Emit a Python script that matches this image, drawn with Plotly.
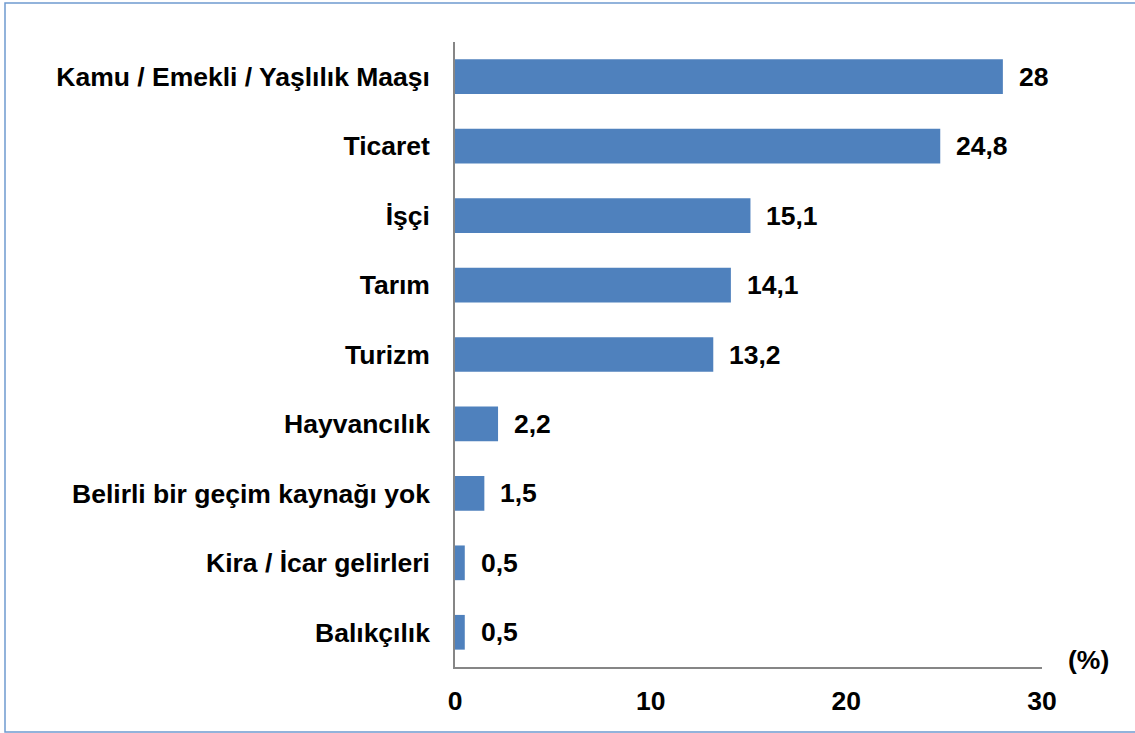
import plotly.graph_objects as go

# geçim kaynakları (%)
categories = [
    'Kamu / Emekli / Yaşlılık Maaşı',
    'Ticaret',
    'İşçi',
    'Tarım',
    'Turizm',
    'Hayvancılık',
    'Belirli bir geçim kaynağı yok',
    'Kira / İcar gelirleri',
    'Balıkçılık',
]
values = [28, 24.8, 15.1, 14.1, 13.2, 2.2, 1.5, 0.5, 0.5]
x_ticks = [0, 10, 20, 30]

W, H = 1135, 733
L, R, T, B = 455, 93, 42, 66
pw, ph = W - L - R, H - T - B

font = dict(family='Liberation Sans, Arial, sans-serif', size=26.5, color='black')

fig = go.Figure()
fig.add_trace(go.Bar(
    y=categories, x=values, orientation='h',
    marker=dict(color='#4F81BD', line=dict(width=0)),
    hoverinfo='skip',
))

# değer etiketleri
for c, v in zip(categories, values):
    fig.add_annotation(
        x=v, y=c, text='<b>' + f'{v:g}'.replace('.', ',') + '</b>',
        showarrow=False, xanchor='left', xshift=14, font=font,
    )

fig.add_annotation(
    xref='paper', yref='paper', x=(1088 - L) / pw, y=(H - B - 660) / ph,
    xanchor='center', yanchor='middle',
    text='<b>(%)</b>', showarrow=False, font=font,
)

# çerçeve
fig.add_shape(
    type='rect', xref='paper', yref='paper',
    x0=(5 - L) / pw, x1=(W + 5 - L) / pw,
    y0=(H - B - 732) / ph, y1=(H - B - 3) / ph,
    line=dict(color='#6F9AD0', width=1.5), layer='below',
)

fig.update_layout(
    width=W, height=H,
    margin=dict(l=L, r=R, t=T, b=B),
    plot_bgcolor='white', paper_bgcolor='white',
    font=font, bargap=0.5, showlegend=False,
)
fig.update_xaxes(
    range=[0, 30], tickvals=x_ticks, ticktext=[f'<b>{t}</b>' for t in x_ticks],
    showgrid=False, zeroline=False, showline=True, linecolor='#868686', linewidth=1.5,
    ticks='outside', ticklen=9, tickcolor='rgba(0,0,0,0)', fixedrange=True,
)
fig.update_yaxes(
    categoryorder='array', categoryarray=categories[::-1],
    tickvals=categories, ticktext=[f'<b>{c}</b>' for c in categories],
    showgrid=False, zeroline=False, showline=True, linecolor='#868686', linewidth=1.5,
    ticks='outside', ticklen=18, tickcolor='rgba(0,0,0,0)', fixedrange=True,
)

fig.write_html('out.html', config={'displayModeBar': False},
               post_script="document.body.style.margin='0';")
